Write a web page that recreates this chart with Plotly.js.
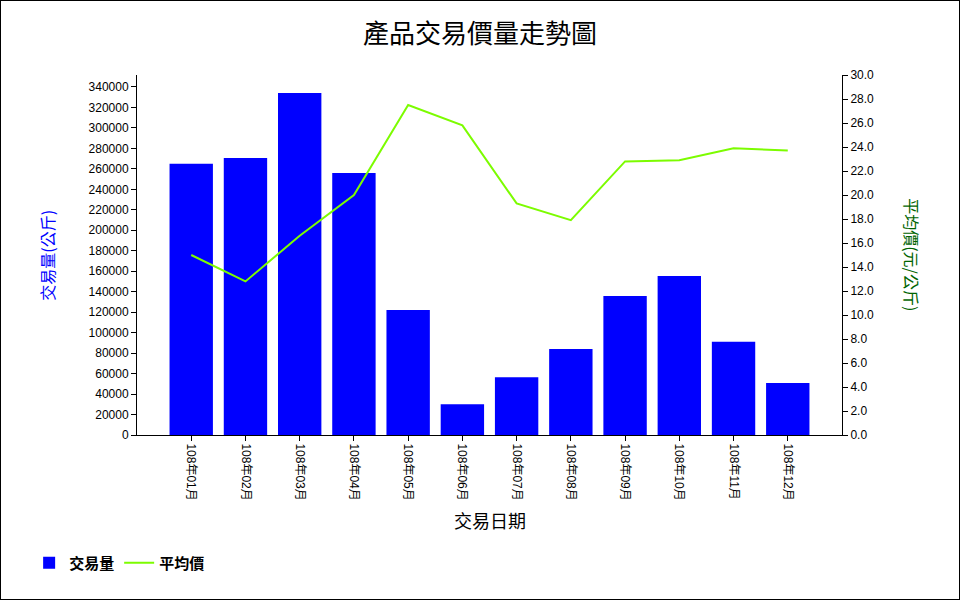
<!DOCTYPE html>
<html>
<head>
<meta charset="utf-8">
<script src="https://cdn.plot.ly/plotly-3.0.1.min.js"></script>
<style>
html,body{margin:0;padding:0;background:#fff;}
#chart{width:958px;height:598px;border:1px solid #000;}
</style>
</head>
<body>
<div id="chart"></div>
<script>
const months = ["108年01月","108年02月","108年03月","108年04月","108年05月","108年06月","108年07月","108年08月","108年09月","108年10月","108年11月","108年12月"];
const volume = [265000, 270500, 334000, 256000, 122000, 30000, 56500, 84000, 135800, 155300, 91000, 50800];
const avgPrice = [15.0, 12.8, 16.6, 20.0, 27.5, 25.8, 19.3, 17.9, 22.8, 22.9, 23.9, 23.7];

const cjk = '"Noto Sans CJK TC", "Noto Sans CJK SC", sans-serif';
const latin = '"Liberation Sans", Arial, ' + cjk;

const traces = [
  {type:'bar', name:'交易量', x:months, y:volume, marker:{color:'#0000FF'}, width:0.8, yaxis:'y'},
  {type:'scatter', mode:'lines', name:'平均價', x:months, y:avgPrice, line:{color:'#7CFC00', width:2}, yaxis:'y2'}
];

const layout = {
  width:958, height:598,
  margin:{l:136, r:117, t:74, b:164, pad:0},
  paper_bgcolor:'#fff', plot_bgcolor:'#fff',
  title:{text:'產品交易價量走勢圖', font:{family:cjk, size:26, color:'#000'}, x:0.5, xanchor:'center', y:0.945, yanchor:'middle'},
  showlegend:true,
  legend:{orientation:'h', x:-0.153, xanchor:'left', y:-0.31, yanchor:'top', font:{family:cjk, size:15, color:'#000', weight:'bold'}, itemwidth:30, bgcolor:'rgba(0,0,0,0)'},
  bargap:0.2,
  xaxis:{type:'category', range:[-1,12], showline:true, linecolor:'#000', linewidth:1, ticks:'outside', ticklen:5, tickcolor:'#000', tickangle:90, tickfont:{family:latin, size:12, color:'#000'}, showgrid:false, zeroline:false, fixedrange:true},
  yaxis:{range:[0,351700], showline:true, linecolor:'#000', linewidth:1, ticks:'outside', ticklen:5, tickcolor:'#000', dtick:20000, tick0:0, tickformat:'d', tickfont:{family:latin, size:12, color:'#000'}, showgrid:false, zeroline:false},
  yaxis2:{overlaying:'y', side:'right', range:[0,30], showline:true, linecolor:'#000', linewidth:1, ticks:'outside', ticklen:5, tickcolor:'#000', dtick:2, tick0:0, tickformat:'.1f', tickfont:{family:latin, size:12, color:'#000'}, showgrid:false, zeroline:false},
  annotations:[
    {text:'交易量(公斤)', xref:'paper', yref:'paper', x:-0.128, y:0.5, xanchor:'center', yanchor:'middle', textangle:-90, showarrow:false, font:{family:cjk, size:16, color:'#0000FF'}},
    {text:'平均價(元/公斤)', xref:'paper', yref:'paper', x:1.099, y:0.5, xanchor:'center', yanchor:'middle', textangle:90, showarrow:false, font:{family:cjk, size:16, color:'#006400'}},
    {text:'交易日期', xref:'paper', yref:'paper', x:0.5, y:-0.236, xanchor:'center', yanchor:'middle', showarrow:false, font:{family:cjk, size:18, color:'#000'}}
  ]
};

Plotly.newPlot('chart', traces, layout, {displayModeBar:false, staticPlot:true});
</script>
</body>
</html>
